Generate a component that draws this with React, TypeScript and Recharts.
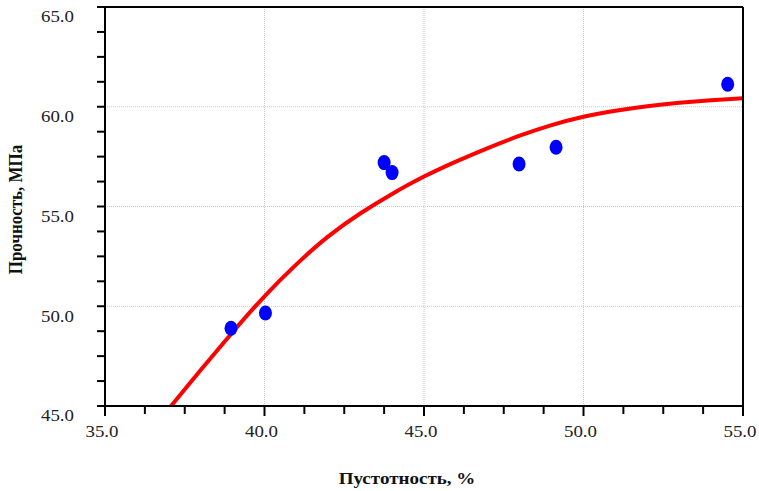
import React from 'react';
import { ComposedChart, XAxis, YAxis, Scatter, Line, ReferenceLine, Label } from 'recharts';

const xMajor = [35, 40, 45, 50, 55];
const yMajor = [45, 50, 55, 60, 65];
const xTicks = [35, 36.25, 37.5, 38.75, 40, 41.25, 42.5, 43.75, 45, 46.25, 47.5, 48.75, 50, 51.25, 52.5, 53.75, 55];
const yTicks = [45, 46.25, 47.5, 48.75, 50, 51.25, 52.5, 53.75, 55, 56.25, 57.5, 58.75, 60, 61.25, 62.5, 63.75, 65];

// measured points: void ratio (%) vs strength (MPa)
const voidPct = [38.95, 40.03, 43.75, 44.0, 47.98, 49.14, 54.52];
const strength = [48.9, 49.66, 57.2, 56.7, 57.13, 57.97, 61.13];

// trend curve
const curveX = [37.07, 38, 39, 40, 41, 42, 43, 44, 45, 46, 47, 48, 49, 50, 51, 52, 53, 54, 55];
const curveY = [45.0, 46.8, 48.7, 50.5, 52.1, 53.5, 54.65, 55.63, 56.5, 57.25, 57.93, 58.55, 59.08, 59.5, 59.8, 60.03, 60.2, 60.33, 60.43];

const points = voidPct.map((x, i) => ({ x, y: strength[i] }));
const curve = curveX.map((x, i) => ({ x, y: curveY[i] }));

const SERIF = '"Liberation Serif", "Times New Roman", serif';

const XTick = (props: any) => {
  const { x, y, payload } = props;
  const major = xMajor.includes(payload.value);
  return (
    <g>
      <line x1={x} y1={y} x2={x} y2={y + (major ? 10 : 8)} stroke="#000" strokeWidth={2} />
      {major && (
        <text
          transform={`translate(${x - 3},${y + 26}) scale(1.18,1)`}
          textAnchor="middle"
          dominantBaseline="central"
          fontSize={16}
          fontFamily={SERIF}
          fill="#222"
        >
          {payload.value.toFixed(1)}
        </text>
      )}
    </g>
  );
};

const YTick = (props: any) => {
  const { x, y, payload } = props;
  const major = yMajor.includes(payload.value);
  return (
    <g>
      <line x1={x - 8} y1={y} x2={x} y2={y} stroke="#000" strokeWidth={2} />
      {major && (
        <text
          transform={`translate(${x - 31},${y + 10}) scale(1.18,1)`}
          textAnchor="end"
          dominantBaseline="central"
          fontSize={16}
          fontFamily={SERIF}
          fill="#222"
        >
          {payload.value.toFixed(1)}
        </text>
      )}
    </g>
  );
};

const XTitle = (props: any) => {
  const vb = props.viewBox || { x: 0, y: 0, width: 0, height: 0 };
  return (
    <text
      transform={`translate(${vb.x + vb.width / 2 - 17},${vb.y + 72}) scale(1.12,1)`}
      textAnchor="middle"
      dominantBaseline="central"
      fontSize={17}
      fontWeight="bold"
      fontFamily={SERIF}
      fill="#111"
    >
      Пустотность, %
    </text>
  );
};

const YTitle = (props: any) => {
  const vb = props.viewBox || { x: 0, y: 0, width: 0, height: 0 };
  const cx = vb.x + 16;
  const cy = vb.y + vb.height / 2 + 3;
  return (
    <text
      transform={`translate(${cx},${cy}) rotate(-90) scale(1,1.12)`}
      textAnchor="middle"
      dominantBaseline="central"
      fontSize={17}
      fontWeight="bold"
      fontFamily={SERIF}
      fill="#111"
    >
      Прочность, МПа
    </text>
  );
};

const Dot = (p: any) => <ellipse cx={p.cx} cy={p.cy} rx={6.5} ry={7.5} fill="#0000ff" />;

export default function App() {
  return (
    <div style={{ position: 'absolute', left: 0, top: 0, background: '#fff' }}>
      <ComposedChart width={759} height={491} margin={{ top: 7, right: 16, bottom: 0, left: 0 }}>
        <XAxis
          type="number"
          dataKey="x"
          domain={[35, 55]}
          ticks={xTicks}
          interval={0}
          allowDataOverflow
          height={85}
          tickSize={0}
          tickMargin={0}
          tickLine={false}
          tick={<XTick />}
          axisLine={{ stroke: '#000', strokeWidth: 2 }}
        >
          <Label content={<XTitle />} />
        </XAxis>
        <YAxis
          type="number"
          dataKey="y"
          domain={[45, 65]}
          ticks={yTicks}
          interval={0}
          allowDataOverflow
          width={105}
          tickSize={0}
          tickMargin={0}
          tickLine={false}
          tick={<YTick />}
          axisLine={{ stroke: '#000', strokeWidth: 2 }}
        >
          <Label content={<YTitle />} />
        </YAxis>
        {[40, 45, 50].map((v) => (
          <ReferenceLine key={'gx' + v} x={v} stroke="#c8c8c8" strokeDasharray="1 1" strokeWidth={1} />
        ))}
        {[50, 55, 60].map((v) => (
          <ReferenceLine key={'gy' + v} y={v} stroke="#c8c8c8" strokeDasharray="1 1" strokeWidth={1} />
        ))}
        <Line
          data={curve}
          dataKey="y"
          type="natural"
          stroke="#ff0000"
          strokeWidth={4}
          dot={false}
          activeDot={false}
          isAnimationActive={false}
        />
        <Scatter data={points} dataKey="y" shape={<Dot />} isAnimationActive={false} />
        <ReferenceLine y={65} stroke="#000" strokeWidth={2} />
        <ReferenceLine x={55} stroke="#000" strokeWidth={2} />
      </ComposedChart>
    </div>
  );
}
